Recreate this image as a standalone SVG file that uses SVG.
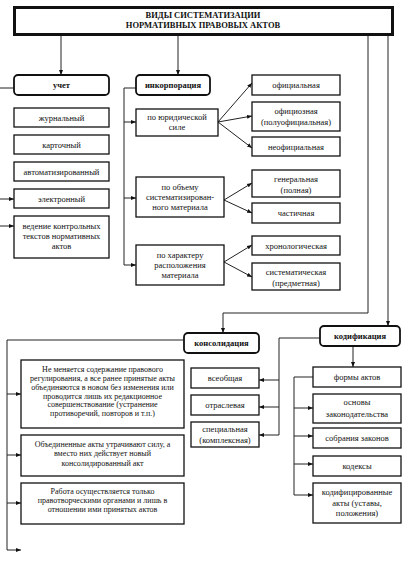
<svg xmlns="http://www.w3.org/2000/svg" width="402" height="571" viewBox="0 0 402 571">
<defs>
<marker id="ah" viewBox="0 0 10 10" refX="10" refY="5" markerWidth="5" markerHeight="5" orient="auto" markerUnits="userSpaceOnUse">
<path d="M0,1 L10,5 L0,9 z" fill="#111"/>
</marker>
<style>
.t{font-family:"Liberation Serif","Times New Roman",serif;font-size:8.5px;fill:#111;text-anchor:middle}
.s{font-size:8px}
.b{font-weight:bold}
.bx{fill:#fff;stroke:#111;stroke-width:1.3}
.rb{fill:#fff;stroke:#111;stroke-width:1.8}
.ln{fill:none;stroke:#222;stroke-width:1}
.ar{fill:none;stroke:#222;stroke-width:1;marker-end:url(#ah)}
</style>
</defs>
<rect width="402" height="571" fill="#fff"/>

<g id="connectors">
<path class="ar" d="M61,35 V75"/>
<path class="ar" d="M178,35 V75"/>
<path class="ln" d="M368,35 V313 H223"/>
<path class="ar" d="M223,313 V333"/>
<path class="ar" d="M388,35 V326"/>
<!-- учет -->
<path class="ln" d="M0,88 H14"/>
<path class="ar" d="M0,199 H14"/>
<path class="ar" d="M0,226 H14"/>
<!-- инкорпорация -->
<path class="ln" d="M136,88 H124 V265"/>
<path class="ar" d="M124,122 H136"/>
<path class="ar" d="M124,198 H136"/>
<path class="ar" d="M124,265 H136"/>
<path class="ar" d="M218,122 L252,83"/>
<path class="ar" d="M218,122 L252,116"/>
<path class="ar" d="M218,122 L252,148"/>
<path class="ar" d="M224,200 L252,183"/>
<path class="ar" d="M224,200 L252,213"/>
<path class="ar" d="M224,262 L252,245"/>
<path class="ar" d="M224,262 L252,277"/>
<!-- консолидация -->
<path class="ln" d="M184,340 H7 V550"/>
<path class="ar" d="M7,394 H21"/>
<path class="ar" d="M7,455 H21"/>
<path class="ar" d="M7,503 H21"/>
<path class="ar" d="M7,550 H21"/>
<!-- кодификация -->
<path class="ln" d="M320,338 H279 V435"/>
<path class="ar" d="M279,380 H259"/>
<path class="ar" d="M279,407 H259"/>
<path class="ar" d="M279,435 H259"/>
<path class="ar" d="M353,346 V367"/>
<path class="ln" d="M313,377 H294 V495"/>
<path class="ar" d="M294,408 H313"/>
<path class="ar" d="M294,436 H313"/>
<path class="ar" d="M294,464 H313"/>
<path class="ar" d="M294,495 H313"/>
</g>

<g id="title">
<rect x="14.5" y="7.5" width="378" height="27" fill="#fff" stroke="#111" stroke-width="3"/>
<text class="t b" x="203" y="18">ВИДЫ СИСТЕМАТИЗАЦИИ</text>
<text class="t b" x="203" y="28">НОРМАТИВНЫХ ПРАВОВЫХ АКТОВ</text>
</g>

<g id="uchet"><rect class="rb" x="14" y="75" width="95" height="20" rx="4"/><text class="t b" x="61.5" y="88">учет</text></g>
<g id="zhurnal"><rect class="bx" x="14" y="108" width="95" height="19"/><text class="t" x="61.5" y="120.5">журнальный</text></g>
<g id="kartoch"><rect class="bx" x="14" y="135" width="95" height="19"/><text class="t" x="61.5" y="147.5">карточный</text></g>
<g id="avtomat"><rect class="bx" x="14" y="162" width="95" height="19"/><text class="t" x="61.5" y="174.5">автоматизированный</text></g>
<g id="elektron"><rect class="bx" x="14" y="189" width="95" height="19"/><text class="t" x="61.5" y="201.5">электронный</text></g>
<g id="vedenie"><rect class="bx" x="14" y="216" width="95" height="42"/><text class="t" x="61.5" y="229">ведение контрольных</text><text class="t" x="61.5" y="239">текстов нормативных</text><text class="t" x="61.5" y="249">актов</text></g>

<g id="inkorp"><rect class="rb" x="136" y="75" width="74" height="20" rx="4"/><text class="t b" x="173" y="88">инкорпорация</text></g>
<g id="po-yurid"><rect class="bx" x="136" y="109" width="82" height="27"/><text class="t" x="177" y="120">по юридической</text><text class="t" x="177" y="130">силе</text></g>
<g id="po-obemu"><rect class="bx" x="136" y="177" width="88" height="40"/><text class="t" x="180" y="190">по объему</text><text class="t" x="180" y="200">систематизирован-</text><text class="t" x="180" y="210">ного материала</text></g>
<g id="po-harakt"><rect class="bx" x="136" y="245" width="88" height="40"/><text class="t" x="180" y="258">по характеру</text><text class="t" x="180" y="268">расположения</text><text class="t" x="180" y="278">материала</text></g>

<g id="ofic"><rect class="bx" x="252" y="75" width="88" height="20"/><text class="t" x="296" y="88">официальная</text></g>
<g id="oficioz"><rect class="bx" x="252" y="102" width="88" height="29"/><text class="t" x="296" y="114">официозная</text><text class="t" x="296" y="125">(полуофициальная)</text></g>
<g id="neofic"><rect class="bx" x="252" y="137" width="88" height="19"/><text class="t" x="296" y="149.5">неофициальная</text></g>
<g id="general"><rect class="bx" x="252" y="170" width="88" height="27"/><text class="t" x="296" y="182">генеральная</text><text class="t" x="296" y="193">(полная)</text></g>
<g id="chastich"><rect class="bx" x="252" y="203" width="88" height="20"/><text class="t" x="296" y="216">частичная</text></g>
<g id="hronol"><rect class="bx" x="252" y="236" width="88" height="19"/><text class="t" x="296" y="248.5">хронологическая</text></g>
<g id="sistem"><rect class="bx" x="252" y="263" width="88" height="27"/><text class="t" x="296" y="275">систематическая</text><text class="t" x="296" y="286">(предметная)</text></g>

<g id="konsol"><rect class="rb" x="184" y="333" width="75" height="20" rx="4"/><text class="t b" x="221.5" y="346">консолидация</text></g>
<g id="kons1"><rect class="bx" x="21" y="360" width="163" height="68"/>
<text class="t s" x="102.5" y="372">Не меняется содержание правового</text>
<text class="t s" x="102.5" y="381">регулирования, а все ранее принятые акты</text>
<text class="t s" x="102.5" y="390">объединяются в новом без изменения или</text>
<text class="t s" x="102.5" y="398.5">проводится лишь их редакционное</text>
<text class="t s" x="102.5" y="407">совершенствование (устранение</text>
<text class="t s" x="102.5" y="416">противоречий, повторов и т.п.)</text></g>
<g id="kons2"><rect class="bx" x="21" y="435" width="163" height="41"/>
<text class="t s" x="102.5" y="447">Объединенные акты утрачивают силу, а</text>
<text class="t s" x="102.5" y="456">вместо них действует новый</text>
<text class="t s" x="102.5" y="466">консолидированный акт</text></g>
<g id="kons3"><rect class="bx" x="21" y="483" width="163" height="41"/>
<text class="t s" x="102.5" y="494">Работа осуществляется только</text>
<text class="t s" x="102.5" y="503">правотворческими органами и лишь в</text>
<text class="t s" x="102.5" y="512">отношении ими принятых актов</text></g>

<g id="kodif"><rect class="rb" x="320" y="326" width="80" height="20" rx="4"/><text class="t b" x="360" y="339">кодификация</text></g>
<g id="vseob"><rect class="bx" x="191" y="368" width="68" height="20"/><text class="t" x="225" y="381">всеобщая</text></g>
<g id="otrasl"><rect class="bx" x="191" y="395" width="68" height="20"/><text class="t" x="225" y="408">отраслевая</text></g>
<g id="specz"><rect class="bx" x="191" y="422" width="68" height="25"/><text class="t" x="225" y="432">специальная</text><text class="t" x="225" y="443">(комплексная)</text></g>
<g id="formy"><rect class="bx" x="313" y="367" width="88" height="20"/><text class="t" x="357" y="380">формы актов</text></g>
<g id="osnovy"><rect class="bx" x="313" y="394" width="88" height="29"/><text class="t" x="357" y="405">основы</text><text class="t" x="357" y="417">законодательства</text></g>
<g id="sobr"><rect class="bx" x="313" y="428" width="88" height="20"/><text class="t" x="357" y="441">собрания законов</text></g>
<g id="kodeksy"><rect class="bx" x="313" y="456" width="88" height="20"/><text class="t" x="357" y="469">кодексы</text></g>
<g id="kodakty"><rect class="bx" x="313" y="483" width="88" height="40"/><text class="t" x="357" y="495">кодифицированные</text><text class="t" x="357" y="506">акты (уставы,</text><text class="t" x="357" y="516">положения)</text></g>
</svg>
